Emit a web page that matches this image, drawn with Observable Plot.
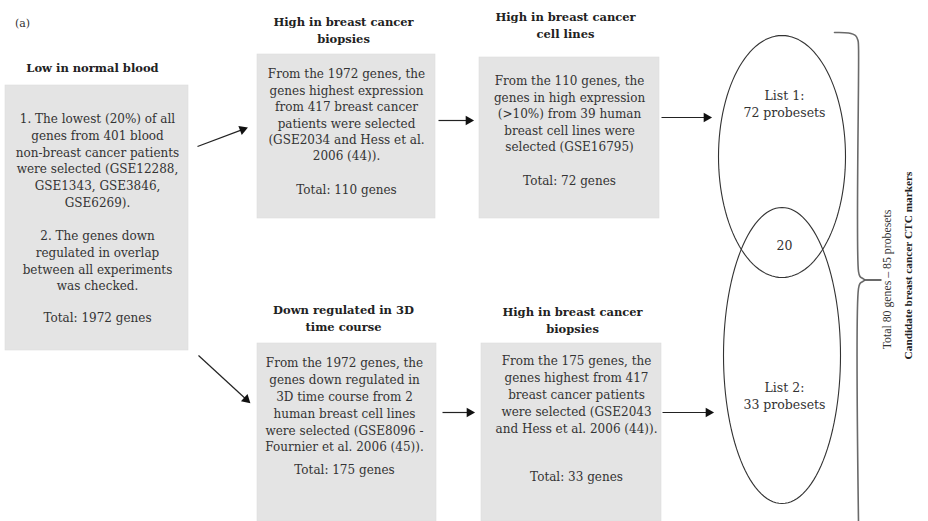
<!DOCTYPE html>
<html>
<head>
<meta charset="utf-8">
<script src="https://cdn.jsdelivr.net/npm/d3@7"></script>
<script src="https://cdn.jsdelivr.net/npm/@observablehq/plot@0.6"></script>
<style>
  html, body { margin: 0; padding: 0; background: #fff; }
  #chart svg { display: block; }
</style>
</head>
<body>
<div id="chart"></div>
<script>
// ---------- content (text of the flowchart) ----------
const panelLabel = "(a)";
const stepTitles = [
  ["Low in normal blood"],
  ["High in breast cancer", "biopsies"],
  ["High in breast cancer", "cell lines"],
  ["Down regulated in 3D", "time course"],
  ["High in breast cancer", "biopsies"]
];
const stepBodies = [
  ["1. The lowest (20%) of all", "genes from 401 blood", "non-breast cancer patients",
   "were selected (GSE12288,", "GSE1343, GSE3846,", "GSE6269).", "",
   "2. The genes down", "regulated in overlap", "between all experiments", "was checked."],
  ["From the 1972 genes, the", "genes highest expression", "from 417 breast cancer",
   "patients were selected", "(GSE2034 and Hess et al.", "2006 (44))."],
  ["From the 110 genes, the", "genes in high expression", "(>10%) from 39 human",
   "breast cell lines were", "selected (GSE16795)"],
  ["From the 1972 genes, the", "genes down regulated in", "3D time course from 2",
   "human breast cell lines", "were selected (GSE8096 -", "Fournier et al. 2006 (45))."],
  ["From the 175 genes, the", "genes highest from 417", "breast cancer patients",
   "were selected (GSE2043", "and Hess et al. 2006 (44))."]
];
const geneTotals = [1972, 110, 72, 175, 33];
const listNames = ["List 1:", "List 2:"];
const listProbesets = [72, 33];
const overlapCount = 20;
const summaryText = "Total 80 genes \u2013 85 probesets";
const conclusionText = "Candidate breast cancer CTC markers";

// ---------- layout (pixel frame of the diagram) ----------
const boxLayout = [
  {x1: 5,   x2: 188, y1: 85,  y2: 350, tx: 92,  ty: 68,  bx: 97,  by: 119, step: 16.7, totY: 318},
  {x1: 257, x2: 435, y1: 54,  y2: 218, tx: 343, ty: 22,  bx: 346, by: 74,  step: 16.4, totY: 190},
  {x1: 479, x2: 659, y1: 57,  y2: 218, tx: 565, ty: 17,  bx: 569, by: 81,  step: 16.4, totY: 181},
  {x1: 257, x2: 436, y1: 343, y2: 521, tx: 343, ty: 310, bx: 344, by: 363, step: 16.8, totY: 470},
  {x1: 481, x2: 661, y1: 343, y2: 521, tx: 572, ty: 312, bx: 576, by: 361, step: 16.8, totY: 477}
];
const arrowLayout = [
  {x1: 197, y1: 146, x2: 245, y2: 128},
  {x1: 198, y1: 355, x2: 248, y2: 401},
  {x1: 438, y1: 120, x2: 471, y2: 120},
  {x1: 661, y1: 117, x2: 709, y2: 117},
  {x1: 442, y1: 412, x2: 472, y2: 412},
  {x1: 662, y1: 412, x2: 711, y2: 412}
];
const ellipseLayout = [
  {cx: 781.5, cy: 156, rx: 63.5, ry: 121, labelY: 95},
  {cx: 781.5, cy: 355, rx: 58.5, ry: 148, labelY: 387}
];

// ---------- derived mark data ----------
const boxes = boxLayout.map((b, i) => ({...b, i}));
const titleRows = [];
const bodyRows = [];
boxLayout.forEach((b, i) => {
  stepTitles[i].forEach((t, j) => titleRows.push({x: b.tx, y: b.ty + j * 16.5, text: t}));
  stepBodies[i].forEach((t, j) => { if (t) bodyRows.push({x: b.bx, y: b.by + j * b.step, text: t}); });
  bodyRows.push({x: b.bx, y: b.totY, text: `Total: ${geneTotals[i]} genes`});
});

const ellipsePts = [];
ellipseLayout.forEach((e, k) => {
  d3.range(0, 361, 3).forEach(a => {
    const t = a * Math.PI / 180;
    ellipsePts.push({k, x: e.cx + e.rx * Math.cos(t), y: e.cy + e.ry * Math.sin(t)});
  });
});
const listRows = [];
ellipseLayout.forEach((e, k) => {
  listRows.push({x: e.cx + 2.5, y: e.labelY, text: listNames[k]});
  listRows.push({x: e.cx + 2.5, y: e.labelY + 17, text: `${listProbesets[k]} probesets`});
});
listRows.push({x: 784, y: 245, text: String(overlapCount)});

const heads = arrowLayout.map(a => {
  const ang = Math.atan2(a.y2 - a.y1, a.x2 - a.x1);
  return {x: a.x2 - 3 * Math.cos(ang), y: a.y2 - 3 * Math.sin(ang), rot: 90 + ang * 180 / Math.PI};
});
const shafts = arrowLayout.map(a => {
  const ang = Math.atan2(a.y2 - a.y1, a.x2 - a.x1);
  return {x1: a.x1, y1: a.y1, x2: a.x2 - 4 * Math.cos(ang), y2: a.y2 - 4 * Math.sin(ang)};
});

const bracePts = [
  [834, 32], [848, 32.5], [855, 35], [857.5, 40], [858, 46],
  [858, 271], [859.5, 276], [864, 279.5], [859.5, 283], [858, 288], [858, 521]
].map(([x, y]) => ({x, y}));
const braceTip = [{x1: 864, y1: 279.5, x2: 881, y2: 279.5}];

const ink = "#333";

const chart = Plot.plot({
  width: 928,
  height: 521,
  margin: 0,
  x: {domain: [0, 928], axis: null},
  y: {domain: [521, 0], axis: null},
  style: {fontFamily: "DejaVu Serif", background: "#fff"},
  marks: [
    Plot.rect(boxes, {x1: "x1", x2: "x2", y1: "y1", y2: "y2", fill: "#e4e4e4", stroke: "#dcdcdc", strokeWidth: 0.6}),
    Plot.text(titleRows, {x: "x", y: "y", text: "text", fontSize: 11.5, fontWeight: "bold", fill: "#222"}),
    Plot.text(bodyRows, {x: "x", y: "y", text: "text", fontSize: 12, fill: ink}),
    Plot.link(shafts, {x1: "x1", y1: "y1", x2: "x2", y2: "y2", stroke: "#222", strokeWidth: 1.2}),
    Plot.dot(heads, {x: "x", y: "y", symbol: "triangle", r: 3.6, fill: "#111", stroke: "none", rotate: "rot"}),
    Plot.line(ellipsePts, {x: "x", y: "y", z: "k", stroke: "#333", strokeWidth: 1.1}),
    Plot.text(listRows, {x: "x", y: "y", text: "text", fontSize: 12.5, fill: ink}),
    Plot.line(bracePts, {x: "x", y: "y", stroke: "#6a6a6a", strokeWidth: 1.6, curve: "catmull-rom"}),
    Plot.link(braceTip, {x1: "x1", y1: "y1", x2: "x2", y2: "y2", stroke: "#444", strokeWidth: 1.6}),
    Plot.text([summaryText], {x: 887, y: 279, text: d => d, rotate: -90, fontSize: 11.8, fontFamily: "Liberation Serif", fill: ink}),
    Plot.text([conclusionText], {x: 908, y: 265, text: d => d, rotate: -90, fontSize: 11.3, fontFamily: "Liberation Serif", fontWeight: "bold", fill: "#222"}),
    Plot.text([panelLabel], {x: 22, y: 23, text: d => d, fontSize: 11, fill: "#333"})
  ]
});
document.getElementById("chart").appendChild(chart);
</script>
</body>
</html>
